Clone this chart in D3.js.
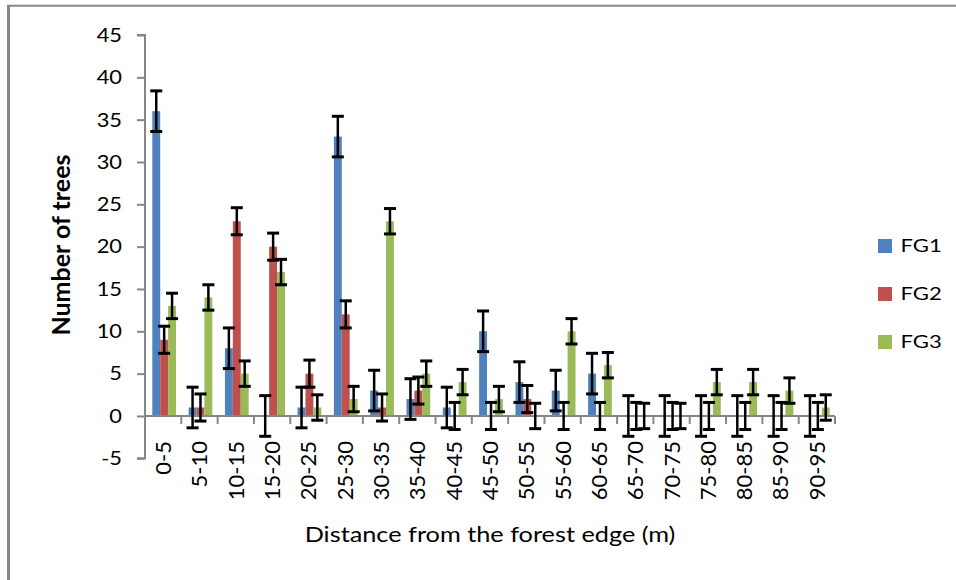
<!DOCTYPE html>
<html>
<head>
<meta charset="utf-8">
<script src="https://cdn.jsdelivr.net/npm/d3@7"></script>
<style>
  html, body { margin: 0; padding: 0; background: #fff; }
  svg { display: block; font-family: Lato, "Open Sans", sans-serif; }
</style>
</head>
<body>
<svg id="chart" width="956" height="580"></svg>
<script>
const categories = ["0-5","5-10","10-15","15-20","20-25","25-30","30-35","35-40","40-45","45-50","50-55","55-60","60-65","65-70","70-75","75-80","80-85","85-90","90-95"];
const seriesNames = ["FG1","FG2","FG3"];
const fg1 = [36,1,8,0,1,33,3,2,1,10,4,3,5,0,0,0,0,0,0];
const fg2 = [9,1,23,20,5,12,1,3,0,0,2,0,0,0,0,0,0,0,0];
const fg3 = [13,14,5,17,1,2,23,5,4,2,0,10,6,0,0,4,4,3,1];
const errors = [2.4, 1.6, 1.5];
const yTicks = [-5,0,5,10,15,20,25,30,35,40,45];
const colors = ["#4F81BD","#C0504D","#9BBB59"];

const seriesValues = [fg1, fg2, fg3];
const svg = d3.select("#chart");
const axisColor = "#868686";

// outer frame
svg.append("line").attr("x1", 8.5).attr("x2", 8.5).attr("y1", 5).attr("y2", 580)
  .attr("stroke", "#878787").attr("stroke-width", 3);
svg.append("line").attr("x1", 7).attr("x2", 956).attr("y1", 5.8).attr("y2", 5.8)
  .attr("stroke", "#878787").attr("stroke-width", 2);

const x = d3.scaleBand().domain(categories).range([145, 835]).padding(0);
const y = d3.scaleLinear().domain([-5, 45]).range([458.3, 35]);
const inner = d3.scaleBand().domain(seriesNames)
  .range([6.3 + 1, x.bandwidth() - 6.3 + 1]).padding(0);

// bars
const data = [];
categories.forEach((c, i) => {
  seriesNames.forEach((s, j) => {
    data.push({cat: c, s: s, j: j, v: seriesValues[j][i], e: errors[j]});
  });
});

svg.append("g").selectAll("rect").data(data).join("rect")
  .attr("x", d => x(d.cat) + inner(d.s))
  .attr("width", inner.bandwidth())
  .attr("y", d => y(Math.max(0, d.v)))
  .attr("height", d => Math.abs(y(d.v) - y(0)))
  .attr("fill", d => colors[d.j]);

// axes
const yAxis = d3.axisLeft(y).tickValues(yTicks).tickSize(8).tickFormat("");
const gy = svg.append("g").attr("transform", "translate(145,0)").call(yAxis);
gy.select(".domain").attr("stroke", axisColor).attr("stroke-width", 2)
  .attr("d", `M-8,${y(45)}H0V${y(-5)}H-8`);
gy.selectAll(".tick line").attr("stroke", axisColor).attr("stroke-width", 2);

// y tick labels
yTicks.forEach(t => {
  svg.append("text")
    .attr("transform", `translate(122,${y(t)}) scale(1.15,1)`)
    .attr("text-anchor", "end")
    .attr("dy", "0.36em")
    .attr("font-size", 19)
    .attr("fill", "#000")
    .text(t);
});

// x axis line at zero with ticks at band boundaries
const boundaries = d3.range(1, categories.length + 1).map(k => 145 + k * x.bandwidth());
svg.append("line").attr("x1", 145).attr("x2", 835).attr("y1", y(0)).attr("y2", y(0))
  .attr("stroke", axisColor).attr("stroke-width", 2);
svg.append("g").selectAll("line").data(boundaries).join("line")
  .attr("x1", d => d).attr("x2", d => d)
  .attr("y1", y(0)).attr("y2", y(0) + 8)
  .attr("stroke", axisColor).attr("stroke-width", 2);

// x tick labels
svg.append("g").selectAll("text").data(categories).join("text")
  .attr("transform", d => `translate(${x(d) + x.bandwidth() / 2},441) rotate(-90)`)
  .attr("text-anchor", "end")
  .attr("dy", "0.36em")
  .attr("font-size", 22)
  .attr("fill", "#000")
  .text(d => d);

// error bars
const eg = svg.append("g");
data.forEach(d => {
  const cx = x(d.cat) + inner(d.s) + inner.bandwidth() / 2;
  const top = y(d.v + d.e), bot = y(d.v - d.e);
  eg.append("line").attr("x1", cx).attr("x2", cx).attr("y1", top).attr("y2", bot)
    .attr("stroke", "#000").attr("stroke-width", 2.5);
  [top, bot].forEach(yy => {
    eg.append("line").attr("x1", cx - 6).attr("x2", cx + 6).attr("y1", yy).attr("y2", yy)
      .attr("stroke", "#000").attr("stroke-width", 3);
  });
});

// axis titles
svg.append("text")
  .attr("transform", "translate(490,542) scale(1.15,1)")
  .attr("text-anchor", "middle")
  .attr("font-size", 22)
  .attr("fill", "#000")
  .text("Distance from the forest edge (m)");

svg.append("text")
  .attr("transform", "translate(70,245) rotate(-90)")
  .attr("text-anchor", "middle")
  .attr("font-size", 25)
  .attr("font-weight", "bold")
  .attr("fill", "#000")
  .text("Number of trees");

// legend
const legendY = [246, 294, 342];
seriesNames.forEach((s, j) => {
  svg.append("rect").attr("x", 878).attr("y", legendY[j] - 7).attr("width", 14).attr("height", 14)
    .attr("fill", colors[j]);
  svg.append("text")
    .attr("transform", `translate(900.5,${legendY[j]}) scale(1.34,1)`)
    .attr("dy", "0.36em")
    .attr("font-size", 16.5)
    .attr("fill", "#000")
    .text(s);
});
</script>
</body>
</html>
